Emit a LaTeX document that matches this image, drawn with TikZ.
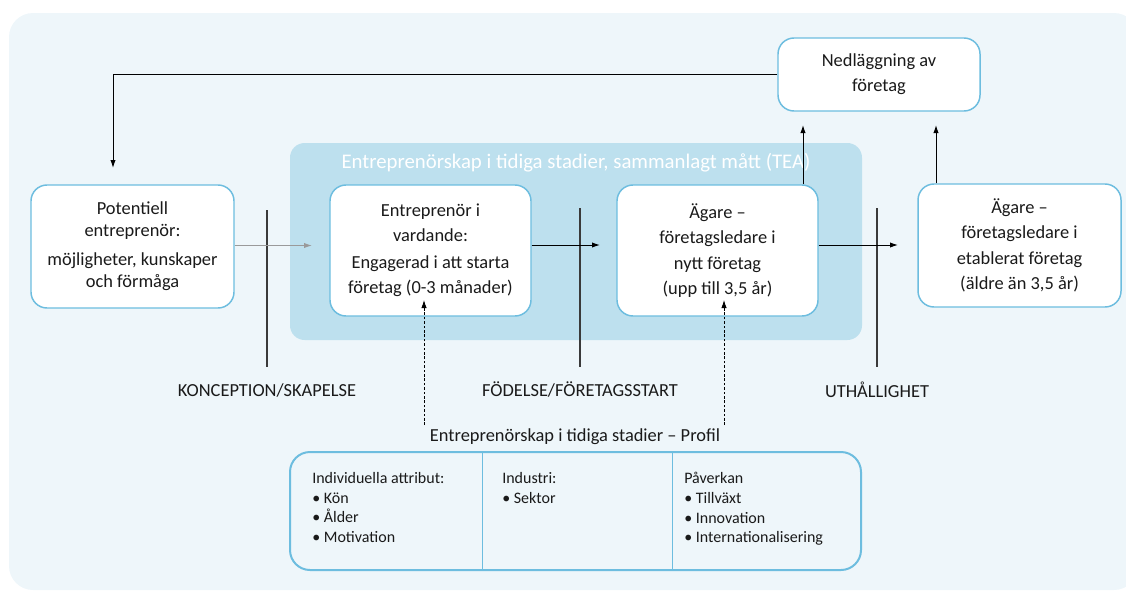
\documentclass[tikz,border=0pt]{standalone}
\usepackage{fontspec}
\setmainfont{Carlito}
\usetikzlibrary{arrows.meta,calc}
\definecolor{bgc}{HTML}{EEF6FA}
\definecolor{teac}{HTML}{BDE0EE}
\definecolor{bordc}{HTML}{6DBDDF}
\definecolor{phasec}{HTML}{3A3A3A}
\definecolor{txtc}{HTML}{1A1A1A}
\definecolor{grayarr}{HTML}{9A9A9A}
\begin{document}
\begin{tikzpicture}[x=0.75pt,y=-0.75pt,
  box/.style={draw=bordc, line width=1.1pt, fill=white, rounded corners=12pt,
    align=center, inner sep=0pt, text=txtc,
    font=\fontsize{13.8}{19}\selectfont},
  wbox/.style={box, minimum width=152.25pt, minimum height=92.25pt},
  tbox/.style={box, minimum width=150.75pt, minimum height=98.25pt},
  arr/.style={line width=0.75pt, draw=black, -{Latex[length=6pt,width=4pt]}},
  darr/.style={line width=0.6pt, draw=black, dash pattern=on 2pt off 1.3pt,
    -{Latex[length=6pt,width=4pt]}},
  phase/.style={line width=1.1pt, draw=phasec},
  lbl/.style={font=\fontsize{13.8}{16}\selectfont, text=txtc, inner sep=0pt},
  coltext/.style={font=\fontsize{12}{14.8}\selectfont, text=txtc, align=left,
    inner sep=0pt, anchor=north west}
]
\useasboundingbox (0,0) rectangle (1126,590);
\fill[bgc, rounded corners=18pt] (9,13) rectangle (1138,590);
\fill[teac, rounded corners=11pt] (290,143) rectangle (862,340);
\node[text=white, font=\fontsize{15.6}{18}\selectfont, inner sep=0pt] (teat) at (576,163)
  {Entreprenörskap i tidiga stadier, sammanlagt mått (TEA)};

% boxes
\node[wbox, font=\fontsize{13.8}{16.5}\selectfont] (pot) at (132.5,246.5)
  {Potentiell\\ entreprenör:\\[5.25pt] möjligheter, kunskaper\\ och förmåga};
\node[tbox] (ent) at (430.5,250.5)
  {Entreprenör i\\ vardande:\\[1pt] Engagerad i att starta\\ företag (0-3 månader)};
\node[tbox] (ny) at (717.5,250.5)
  {Ägare –\\ företagsledare i\\ nytt företag\\ (upp till 3,5 år)};
\node[wbox] (etab) at (1019.5,245.5)
  {Ägare –\\ företagsledare i\\ etablerat företag\\ (äldre än 3,5 år)};
\node[box, minimum width=151.5pt, minimum height=54.75pt] (ned) at (879,74.5)
  {Nedläggning av\\ företag};

% phase lines
\coordinate (p1t) at (267,210); \coordinate (p1b) at (267,367);
\coordinate (p2t) at (580,208); \coordinate (p2b) at (580,367);
\coordinate (p3t) at (877,208); \coordinate (p3b) at (877,367);
\draw[phase] (p1t) -- (p1b);
\draw[phase] (p2t) -- (p2b);
\draw[phase] (p3t) -- (p3b);

\node[lbl] (l1) at (267,390) {KONCEPTION/SKAPELSE};
\node[lbl] (l2) at (580,390) {FÖDELSE/FÖRETAGSSTART};
\node[lbl] (l3) at (877,390) {UTHÅLLIGHET};

% horizontal arrows
\coordinate (a1) at (312,245.5);
\coordinate (a2) at (600,245);
\coordinate (a3) at (898,245);
\draw[line width=0.75pt, draw=grayarr, -{Latex[length=6pt,width=4pt]}] (pot.east |- a1) -- (a1);
\draw[arr] (ent.east |- a2) -- (a2);
\draw[arr] (ny.east |- a3) -- (a3);

% up arrows
\coordinate (u1) at (803,125);
\coordinate (u2) at (936,125);
\draw[arr] (u1 |- ny.north) -- (u1);
\draw[arr] (u2 |- etab.north) -- (u2);

% feedback
\coordinate (fb) at (113,168);
\draw[arr] (ned.west) -| (fb);

% profile
\node[lbl] (proflbl) at (575,437) {Entreprenörskap i tidiga stadier – Profil};
\coordinate (d1b) at (424,425); \coordinate (d1t) at (424,300);
\coordinate (d2b) at (724,425); \coordinate (d2t) at (724,300);
\draw[darr] (d1b) -- (d1t);
\draw[darr] (d2b) -- (d2t);

\node[draw=bordc, line width=1.5pt, rounded corners=15pt, minimum width=428.25pt,
  minimum height=88.5pt, inner sep=0pt] (prof) at (575.5,511) {};
\coordinate (c1) at (482,452); \coordinate (c2) at (672,452);
\draw[draw=bordc, line width=0.75pt] (c1) -- (c1 |- prof.south);
\draw[draw=bordc, line width=0.75pt] (c2) -- (c2 |- prof.south);

\node[coltext] (col1) at (312,472)
  {Individuella attribut:\\ • Kön\\ • Ålder\\ • Motivation};
\node[coltext] (col2) at (502,472)
  {Industri:\\ • Sektor};
\node[coltext] (col3) at (684,472)
  {Påverkan\\ • Tillväxt\\ • Innovation\\ • Internationalisering};
\end{tikzpicture}
\end{document}
